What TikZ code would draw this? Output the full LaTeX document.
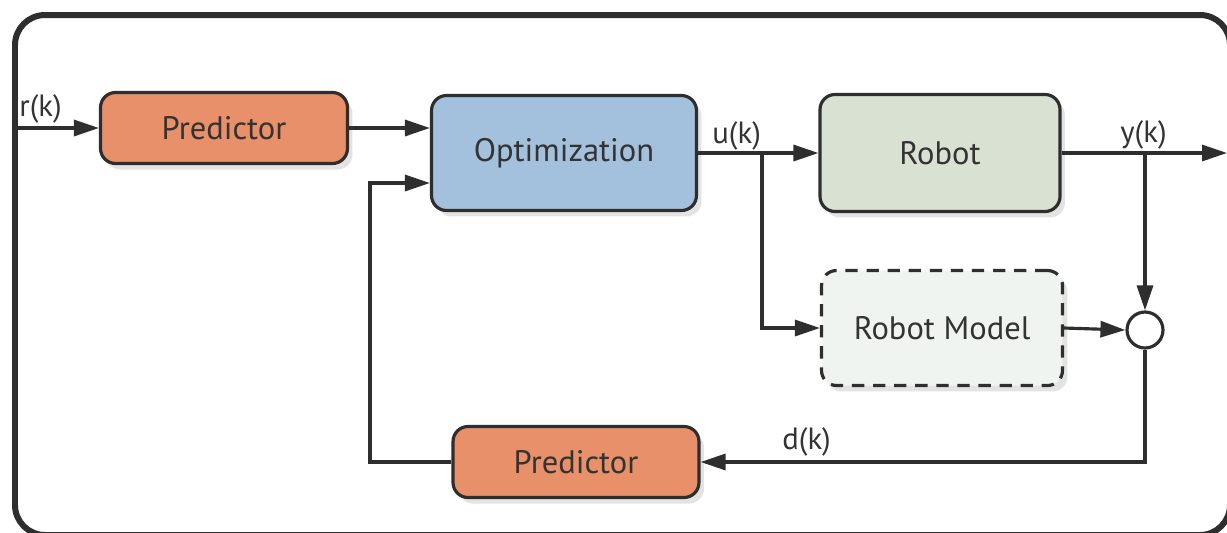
\documentclass[tikz,border=0pt]{standalone}
\usepackage{fontspec}
\setmainfont{PT Sans}
\usetikzlibrary{arrows.meta,shadows,calc}
\definecolor{linec}{HTML}{2E2E2E}
\definecolor{textc}{HTML}{333333}
\definecolor{orangec}{HTML}{E8906A}
\definecolor{bluec}{HTML}{A3C0DC}
\definecolor{greenc}{HTML}{D9E1D2}
\definecolor{modelc}{HTML}{EFF4F1}
\tikzset{
  block/.style={draw=linec, line width=1.8pt, rounded corners=0.3cm, text=textc,
    font=\fontsize{18.5}{22}\selectfont, inner sep=0pt,
    drop shadow={shadow xshift=0.1cm, shadow yshift=-0.12cm, opacity=0.22}},
  arr/.style={draw=linec, line width=1.8pt, -{Triangle[length=0.5cm,width=0.32cm]}},
  sig/.style={text=textc, font=\fontsize{17.5}{20}\selectfont, inner sep=0pt, anchor=base west}
}
\begin{document}
\begin{tikzpicture}[x=0.02cm,y=-0.02cm]
\useasboundingbox (0,0) rectangle (1227,532);
\fill[white] (0,0) rectangle (1227,532);
\begin{scope}
\clip (0,0) rectangle (1227,532);
\draw[linec, line width=0.12cm, rounded corners=0.6cm] (15,15) rectangle (1230,535);
\end{scope}
% blocks
\node[block, fill=orangec, minimum width=4.94cm, minimum height=1.42cm] (p1) at (224,128) {Predictor};
\node[block, fill=bluec, minimum width=5.3cm, minimum height=2.3cm] (opt) at (564,153) {Optimization};
\node[block, fill=greenc, minimum width=4.8cm, minimum height=2.34cm] (robot) at (940,153) {Robot};
\node[block, fill=modelc, dashed, dash pattern=on 7pt off 5pt, minimum width=4.82cm, minimum height=2.3cm] (model) at (942,328) {Robot Model};
\node[block, fill=orangec, minimum width=4.92cm, minimum height=1.42cm] (p2) at (576,462) {Predictor};
\node[draw=linec, line width=1.8pt, fill=white, circle, minimum size=0.72cm, inner sep=0pt] (sum) at (1145,330) {};
% coordinates
\coordinate (rin) at (15,128);
\coordinate (fb) at (370,183);
\coordinate (ub) at (762,153);
\coordinate (yb) at (1145,153);
\coordinate (yout) at (1227,153);
% connectors
\draw[arr] (rin) -- (p1.west);
\draw[arr] (p1.east) -- (p1.east -| opt.west);
\draw[arr] (p2.west) -| (fb) -- (fb -| opt.west);
\draw[arr] (opt.east) -- (opt.east -| robot.west);
\draw[arr] (ub) |- (model.west);
\draw[arr] (robot.east |- yout) -- (yout);
\draw[arr] (yb) -- (sum.north);
\draw[arr] (model.east) -- (sum.west);
\draw[arr] (sum.south) |- (p2.east);
% labels
\node[sig] (lr) at (19,116) {r(k)};
\node[sig] (lu) at (712,143) {u(k)};
\node[sig] (ly) at (1120,142) {y(k)};
\node[sig] (ld) at (782,449) {d(k)};
\end{tikzpicture}
\end{document}
